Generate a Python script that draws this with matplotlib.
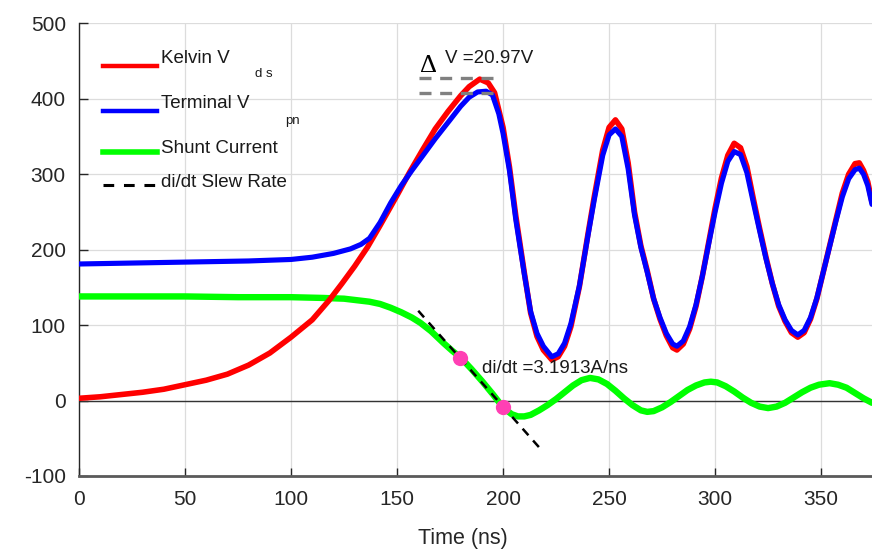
import matplotlib
matplotlib.use('Agg')
import matplotlib.pyplot as plt
from matplotlib.lines import Line2D

plt.rcParams['font.family'] = ['Liberation Sans', 'DejaVu Sans']
plt.rcParams['axes.unicode_minus'] = False

# Kelvin Vds (red)
t_kelvin = [0, 10, 20, 30, 40, 50, 60, 70, 80, 90, 100, 110, 118, 124, 130, 136, 142, 150, 156, 162,
            168, 174, 180, 184, 189, 193, 196, 200, 203, 206, 210, 213, 216, 219, 223, 226, 229, 232,
            236, 240, 243, 247, 250, 253, 256, 259, 262, 265, 268, 271, 274, 277, 280, 282, 285, 288,
            291, 294, 297, 300, 303, 306, 309, 312, 315, 318, 321, 324, 327, 330, 333, 336, 339, 342,
            345, 348, 351, 354, 357, 360, 363, 366, 368, 370, 372, 374]
v_kelvin = [3, 5, 8, 11, 15, 21, 27, 35, 47, 63, 84, 107, 133, 155, 178, 203, 232, 272, 303, 332,
            360, 383, 404, 416, 426, 421, 408, 362, 310, 245, 170, 116, 85, 67, 54, 58, 72, 98,
            151, 220, 270, 332, 362, 372, 360, 315, 250, 205, 172, 135, 108, 86, 70, 67, 75, 95,
            125, 165, 210, 255, 295, 325, 341, 335, 310, 268, 228, 190, 155, 125, 105, 90, 84, 90,
            108, 135, 170, 205, 240, 275, 300, 314, 315, 305, 290, 263]

# Terminal Vpn (blue)
t_term = [0, 20, 40, 60, 80, 100, 110, 120, 128, 133, 137, 142, 147, 152, 157, 162, 168, 175, 180, 184,
          188, 192, 195, 198, 200, 203, 206, 210, 213, 216, 219, 223, 226, 229, 232, 236, 240, 243,
          247, 250, 253, 256, 259, 262, 265, 268, 271, 274, 277, 280, 282, 285, 288, 291, 294, 297,
          300, 303, 306, 309, 312, 315, 318, 321, 324, 327, 330, 333, 336, 339, 342, 345, 348, 351,
          354, 357, 360, 363, 366, 368, 370, 372, 374]
v_term = [181, 182, 183, 184, 185, 187, 190, 195, 201, 207, 215, 236, 262, 285, 305, 324, 347, 372, 390, 402,
          409, 410, 405, 380, 354, 305, 240, 168, 118, 89, 72, 58, 62, 76, 102, 152, 218, 266,
          325, 352, 360, 350, 307, 246, 203, 170, 135, 110, 89, 75, 72, 79, 98, 127, 165, 208,
          250, 288, 317, 330, 326, 302, 263, 225, 188, 155, 127, 107, 93, 87, 93, 110, 136, 170,
          204, 238, 270, 294, 306, 308, 300, 285, 260]

# Shunt current (green)
t_shunt = [0, 25, 50, 75, 100, 115, 125, 131, 137, 142, 147, 152, 157, 161, 166, 172, 176, 180, 185, 190,
           195, 200, 204, 207, 210, 213, 217, 221, 225, 229, 233, 237, 241, 245, 249, 253, 257, 261,
           265, 268, 271, 275, 279, 283, 287, 291, 295, 298, 301, 305, 309, 313, 317, 321, 325, 329,
           333, 337, 341, 345, 349, 354, 358, 362, 366, 370, 374]
i_shunt = [138, 138, 138, 137, 137, 136, 135, 133, 131, 128, 123, 117, 110, 103, 92, 76, 66, 57, 42, 26,
           9, -9, -18, -21, -21, -19, -13, -6, 2, 11, 20, 27, 30, 28, 22, 13, 3, -6,
           -13, -15, -14, -9, -2, 6, 14, 20, 24, 25, 24, 19, 12, 4, -3, -8, -10, -8,
           -3, 4, 11, 17, 21, 23, 21, 17, 10, 3, -3]

# di/dt fit line and the two points it uses
slope_t = [160, 217]
slope_v = [119, -62]
dot_t = [179.7, 200.1]
dot_v = [56, -9]

# overshoot markers
dv_t = [160.4, 196.2]
dv_top = 427.8
dv_bot = 407.2

W, H = 872, 551
fig = plt.figure(figsize=(W / 100, H / 100), dpi=100)
ax = fig.add_axes([79 / W, 1 - 476 / H, (W - 79) / W, (476 - 23.3) / H])


def fx(px):
    return px / W


def fy(py):
    return 1 - py / H


ax.plot(t_shunt, i_shunt, color='#00ff00', lw=4.6, solid_capstyle='round', zorder=3)
ax.plot(t_kelvin, v_kelvin, color='#ff0000', lw=4.0, solid_capstyle='round', zorder=4)
ax.plot(t_term, v_term, color='#0000ff', lw=3.7, solid_capstyle='round', zorder=5)
ax.plot(slope_t, slope_v, color='black', lw=1.8, linestyle=(0, (3.5, 2.8)), zorder=6)
ax.plot(dot_t, dot_v, 'o', color='#ff40b4', markersize=11, markeredgewidth=0, zorder=7)
ax.plot(dv_t, [dv_top, dv_top], color='#808080', lw=2.4, linestyle=(0, (3.6, 2.6)), zorder=6)
ax.plot(dv_t, [dv_bot, dv_bot], color='#808080', lw=2.4, linestyle=(0, (3.6, 2.6)), zorder=6)
ax.axhline(0, color='#333333', lw=1.0, zorder=2)

ax.set_xlim(0, 374)
ax.set_ylim(-100, 500)
ax.set_xticks([0, 50, 100, 150, 200, 250, 300, 350])
ax.set_yticks([-100, 0, 100, 200, 300, 400, 500])
ax.grid(True, color='#dcdcdc', lw=0.9)
ax.set_axisbelow(True)
ax.spines['top'].set_visible(False)
ax.spines['right'].set_visible(False)
ax.spines['left'].set_color('#262626')
ax.spines['left'].set_linewidth(1.0)
ax.spines['bottom'].set_color('#5a5a5a')
ax.spines['bottom'].set_linewidth(2.0)
ax.tick_params(axis='y', direction='in', length=6.5, width=1, colors='#262626', labelsize=15, pad=9.5)
ax.tick_params(axis='x', direction='in', length=6, width=1, colors='#262626', labelsize=15, pad=10)

# text annotations
ax.text(190, 43, 'di/dt =3.1913A/ns', fontsize=13.5, va='center', ha='left', color='#1a1a1a', zorder=8)
fig.text(fx(420), fy(71.7), '\u0394', fontsize=19, family=['Liberation Serif', 'DejaVu Serif'],
         va='baseline', ha='left')
fig.text(fx(445), fy(63.3), 'V =20.97V', fontsize=13.5, va='baseline', ha='left', color='#1a1a1a')
fig.text(fx(463), fy(544), 'Time (ns)', fontsize=15.5, va='baseline', ha='center', color='#262626')

# legend drawn by hand (subscripts sit low, as in the original)
leg_y = [65.7, 111, 151.7, 185]
leg_text_y = [63.3, 108.3, 153.3, 187.3]
leg_labels = ['Kelvin V', 'Terminal V', 'Shunt Current', 'di/dt Slew Rate']
leg_colors = ['#ff0000', '#0000ff', '#00ff00', 'black']
leg_lw = [3.2, 3.2, 4.0, 2.2]
for y, ty, lab, c, lw in zip(leg_y, leg_text_y, leg_labels, leg_colors, leg_lw):
    ls = (0, (3.5, 3.2)) if c == 'black' else '-'
    fig.add_artist(Line2D([fx(102.7), fx(156.7)], [fy(y), fy(y)], color=c, lw=lw, linestyle=ls))
    fig.text(fx(161), fy(ty), lab, fontsize=13.5, va='baseline', ha='left', color='#1a1a1a')
fig.text(fx(255), fy(76.7), 'd s', fontsize=9.5, va='baseline', ha='left', color='#1a1a1a')
fig.text(fx(285), fy(124.3), 'pn', fontsize=9.5, va='baseline', ha='left', color='#1a1a1a')

fig.savefig('out.png', dpi=100)
